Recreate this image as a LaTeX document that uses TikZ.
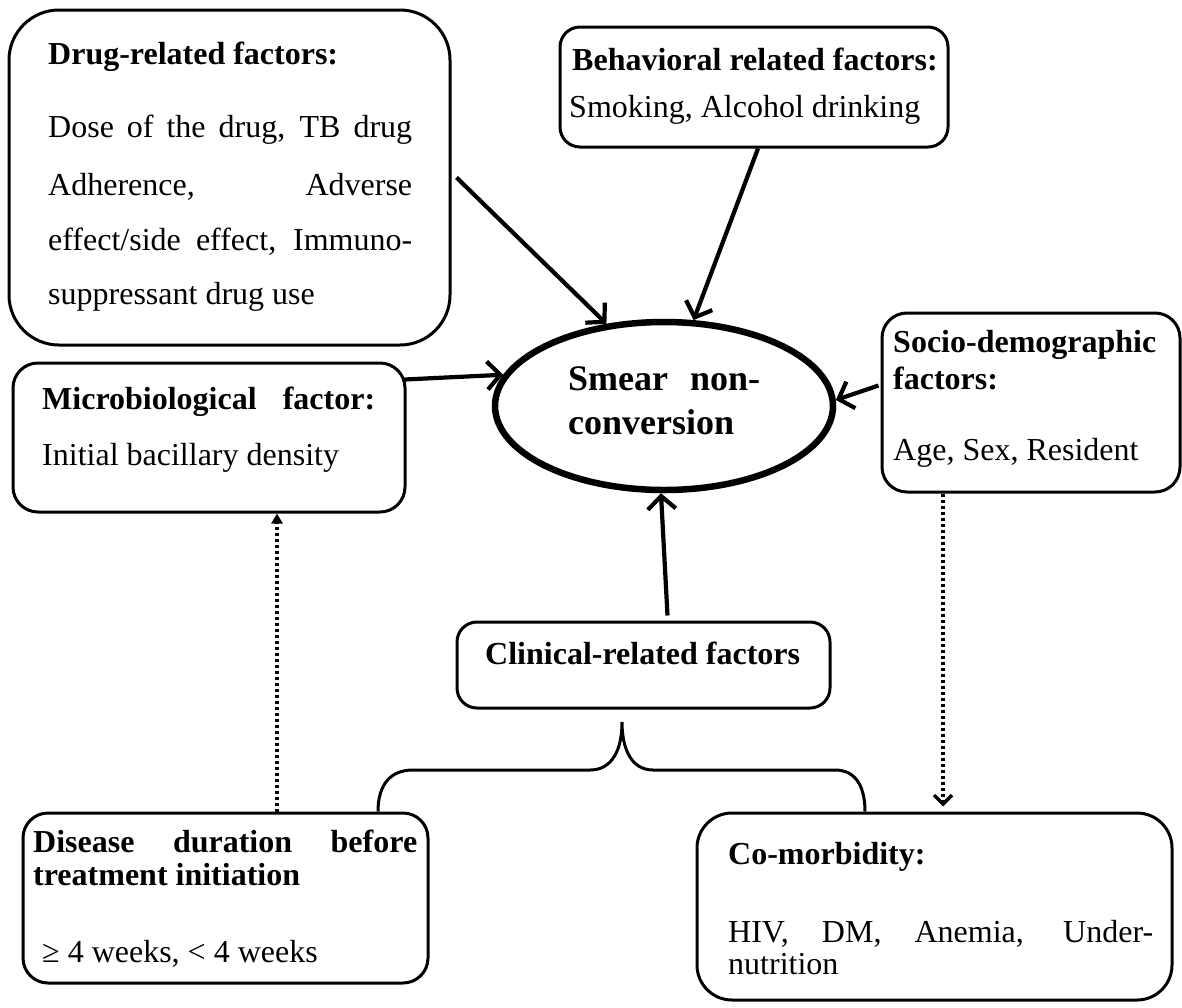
\documentclass[tikz,border=0pt]{standalone}
\usepackage{fontspec}
\setmainfont{Liberation Serif}
\usetikzlibrary{arrows.meta,shapes.geometric,calc}
\newcommand\bodyfnt{\fontsize{32}{38}\selectfont}
\begin{document}
\begin{tikzpicture}[x=1pt,y=-1pt,
  boxr/.style={draw,line width=3pt,inner sep=0pt},
  txt/.style={anchor=west,inner sep=0pt,text height=22pt,text depth=7pt,font=\bodyfnt},
  ttl/.style={txt,font=\bodyfnt\bfseries},
  arr/.style={line width=4.2pt,-{Straight Barb[length=13pt,width=28pt]}},
  dotarr/.style={line width=3.4pt,dash pattern=on 3pt off 3pt}]
\useasboundingbox (0,0) rectangle (1182,1007);
% boxes
\node[boxr,rounded corners=50pt,minimum width=441pt,minimum height=335pt] (drug) at (229.5,177.5) {};
\node[boxr,rounded corners=20pt,minimum width=388pt,minimum height=120pt] (behav) at (754,87) {};
\node[boxr,rounded corners=25pt,minimum width=298pt,minimum height=179pt] (socio) at (1031,402.5) {};
\node[boxr,rounded corners=25pt,minimum width=392pt,minimum height=149pt] (micro) at (209,437.5) {};
\node[boxr,rounded corners=20pt,minimum width=373pt,minimum height=86pt] (clin) at (643.5,665) {};
\node[boxr,rounded corners=25pt,minimum width=405pt,minimum height=170pt] (disease) at (225.5,898) {};
\node[boxr,rounded corners=35pt,minimum width=475pt,minimum height=187pt] (comorb) at (934.5,906.5) {};
\node[draw,ellipse,line width=6.5pt,minimum width=338pt,minimum height=168pt,inner sep=0pt] (ell) at (664,406) {};
% texts
\node[ttl] (drugT) at (48,57) {Drug-related factors:};
\node[txt] (drug1) at (48,130) {\makebox[364pt][s]{Dose of the drug, TB drug}};
\node[txt] (drug2) at (48,188) {\makebox[364pt][s]{Adherence, Adverse}};
\node[txt] (drug3) at (48,243) {\makebox[364pt][s]{effect/side effect, Immuno-}};
\node[txt] (drug4) at (48,297) {suppressant drug use};
\node[ttl] (behT) at (572,63) {Behavioral related factors:};
\node[txt] (beh1) at (569,110) {Smoking, Alcohol drinking};
\node[ttl,font=\fontsize{36}{40}\selectfont\bfseries] (ell1) at (568,383) {\makebox[192pt][s]{Smear non-}};
\node[ttl,font=\fontsize{36}{40}\selectfont\bfseries] (ell2) at (568,427) {conversion};
\node[ttl] (socT1) at (893,345) {Socio-demographic};
\node[ttl] (socT2) at (893,382) {factors:};
\node[txt] (soc1) at (893,453) {Age, Sex, Resident};
\node[ttl] (micT) at (42,402) {\makebox[333pt][s]{Microbiological factor:}};
\node[txt] (mic1) at (42,458) {Initial bacillary density};
\node[ttl] (clinT) at (485,657) {Clinical-related factors};
\node[ttl] (disT1) at (33,845) {\makebox[384pt][s]{Disease duration before}};
\node[ttl] (disT2) at (33,878) {treatment initiation};
\node[txt] (dis1) at (42,955) {≥ 4 weeks, < 4 weeks};
\node[ttl] (comT) at (728,857) {Co-morbidity:};
\node[txt] (com1) at (728,935) {\makebox[425pt][s]{HIV, DM, Anemia, Under-}};
\node[txt] (com2) at (728,967) {nutrition};
% arrows
\draw[arr] ($(drug.east)+(5,0)$) -- (ell.125);
\draw[arr] ($(behav.south)+(4,0)$) -- (ell.71);
\draw[arr] ($(micro.north east)+(-2,18)$) -- (ell.169);
\draw[arr] ($(socio.west)+(-2,-17)$) -- (ell.2);
\draw[arr] ($(clin.north)+(24,-5)$) -- (ell.-92);
\draw[dotarr,-{Triangle[length=10pt,width=11pt]}] ($(disease.north)+(51.5,0)$) -- ($(micro.south)+(68,0)$);
\draw[dotarr,-{Straight Barb[length=9pt,width=18pt]},shorten >=5pt] ($(socio.south)+(-88,0)$) -- ($(comorb.north)+(8.5,0)$);
% brace
\coordinate (bt) at (622,722);
\draw[line width=3pt] ($(disease.north)+(152.5,0)$) .. controls (378,785) and (390,770) .. (413,770) -- (590,770)
  .. controls (612,770) and (622,750) .. (bt) .. controls (622,750) and (632,770) .. (653,770) -- (835,770)
  .. controls (858,770) and (865,790) .. ($(comorb.north)+(-69.5,0)$);
\end{tikzpicture}
\end{document}
